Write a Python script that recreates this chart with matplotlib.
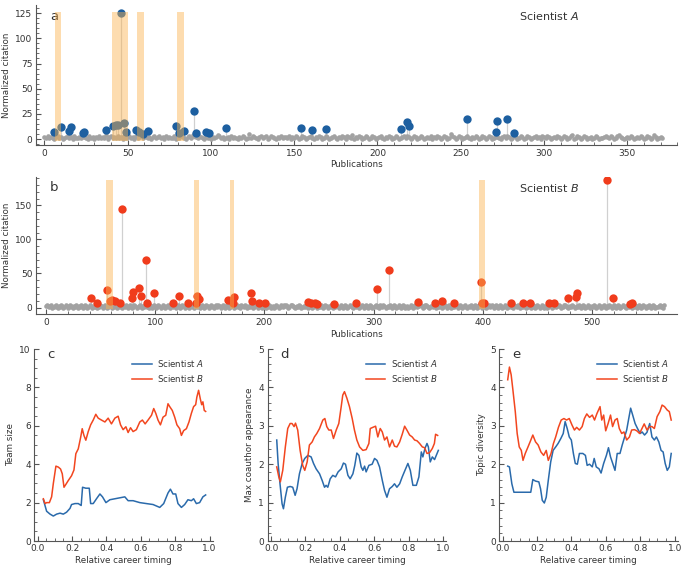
import numpy as np
import matplotlib
matplotlib.use("Agg")
import matplotlib.pyplot as plt
from matplotlib.ticker import AutoMinorLocator

# ---- panel a / b data: every publication (gray) + highlighted hits ----
A_gray = (
    "2131210231 2012312031 1213210312 0213121402 3121312031 "
    "2312031241 3212023123 1203121130 2132102314 3213210213 "
    "0212431201 2031210213 2015132102 3123013210 2131221302 "
    "1320132012 3102132013 2012310213 2032140213 2013201320 "
    "1231021320 1320123132 0132013201 2130213201 3201532013 "
    "2012310213 2013201320 1321023132 0142013201 3201231203 "
    "2132012132 0132013401 3201320120 1320112321 3201342101 "
    "2132012132 0132014201 21"
)
B_gray = (
    "2321230123 1021320132 0132102130 2132013201 3201213021 "
    "3201320153 2013201231 0213201320 1320123102 1321032013 "
    "2013201320 1231021320 1320132013 2012310213 2013201320 "
    "1321023132 0142013201 3201231203 2132012132 0132013201 "
    "3201320120 1320132132 3201342101 2132012132 0132014201 "
    "2132013201 2310213201 3201320132 1023132014 2013201320 "
    "1231203213 2012132013 2013201320 1201320132 1323201342 "
    "1012132012 1320132014 2012132013 2012310213 2013201320 "
    "1320123132 0132013201 3201231203 2132012132 0132013201 "
    "3201320120 1320132132 3201342101 2132012132 0132014201 "
    "2132013201 2310213201 3201320132 1023132014 2013201320 "
    "2132013201 1231203"
)

A_hit_x = [6, 10, 15, 16, 23, 24, 37, 41, 43, 44, 46, 48, 49, 55, 57, 59, 62, 79,
           81, 84, 90, 91, 97, 99, 109, 154, 161, 169, 214, 218, 219, 254, 271,
           272, 278, 282]
A_hit_y = [6.6, 11.5, 8, 11.5, 5.6, 6.6, 9, 13, 14.4, 14.4, 125, 16.4, 7.2, 9.2,
           6.6, 5, 7.9, 13, 6, 7.9, 28, 5.6, 7.5, 6, 10.5, 11, 8.5, 9.8, 9.5,
           16.7, 12.8, 20.3, 6.9, 18, 20, 5.9]
A_bands = [(6.3, 10), (40.5, 50.4), (55.6, 59.7), (79.8, 83.9)]

B_hit_x = [41, 47, 56, 59, 61, 63, 68, 70, 79, 80, 85, 87, 92, 93, 99, 116, 122,
           130, 137, 138, 140, 167, 171, 172, 188, 189, 195, 201, 240, 243, 246,
           248, 264, 284, 303, 314, 341, 356, 363, 374, 398, 399, 401, 426, 437,
           443, 461, 465, 478, 485, 486, 514, 519, 535, 537]
B_hit_y = [13.7, 5.9, 25.4, 9.8, 11.2, 10, 6, 144, 13.7, 23, 28.3, 17, 69.4, 6.4,
           21, 5.9, 17, 5.9, 7.3, 17, 12.2, 10.7, 6.3, 14.7, 21, 9.3, 5.9, 7.3,
           8.3, 7.3, 7.3, 5.4, 4.9, 7.3, 26.9, 55.2, 8.8, 7.3, 9.3, 5.9, 38, 6.8,
           7.3, 7.3, 7.3, 5.9, 6.8, 5.9, 14.2, 15.1, 22, 186.6, 14.2, 5.4, 6.8]
B_bands = [(54.7, 61.7), (135.6, 140.4), (168.4, 172.3), (396.8, 402.3)]

# ---- panel c: team size ----
c_A_x = [0.033, 0.052, 0.072, 0.091, 0.110, 0.130, 0.149, 0.168, 0.188, 0.197,
         0.217, 0.236, 0.253, 0.261, 0.280, 0.300, 0.308, 0.323, 0.342, 0.362,
         0.377, 0.397, 0.420, 0.449, 0.478, 0.507, 0.526, 0.555, 0.594, 0.632,
         0.671, 0.710, 0.733, 0.758, 0.772, 0.787, 0.803, 0.816, 0.836, 0.855,
         0.874, 0.894, 0.907, 0.923, 0.942, 0.961, 0.977]
c_A_y = [2.15, 1.55, 1.4, 1.3, 1.4, 1.45, 1.4, 1.5, 1.7, 1.9,
         1.95, 1.95, 1.85, 2.8, 2.75, 2.75, 1.95, 1.95, 2.2, 2.45,
         2.3, 2.0, 2.15, 2.2, 2.25, 2.3, 2.1, 2.1, 2.0, 1.95,
         1.9, 1.75, 1.95, 2.5, 2.7, 2.45, 2.45, 1.95, 1.75, 1.9,
         2.15, 2.1, 2.2, 1.95, 2.0, 2.3, 2.4]
c_B_x = [0.033, 0.043, 0.052, 0.068, 0.081, 0.091, 0.106, 0.120, 0.133, 0.143,
         0.153, 0.164, 0.178, 0.197, 0.211, 0.222, 0.236, 0.250, 0.259, 0.269,
         0.280, 0.294, 0.308, 0.323, 0.338, 0.352, 0.371, 0.391, 0.410, 0.429,
         0.449, 0.468, 0.482, 0.497, 0.513, 0.526, 0.540, 0.555, 0.574, 0.594,
         0.609, 0.625, 0.642, 0.662, 0.675, 0.687, 0.700, 0.714, 0.729, 0.745,
         0.758, 0.768, 0.783, 0.797, 0.810, 0.826, 0.836, 0.849, 0.865, 0.880,
         0.894, 0.907, 0.919, 0.926, 0.936, 0.946, 0.954, 0.961, 0.969, 0.977]
c_B_y = [2.2, 1.95, 2.0, 2.0, 2.3, 3.0, 3.9, 3.85, 3.75, 3.5,
         2.8, 2.95, 3.15, 3.4, 3.7, 4.55, 4.8, 5.4, 5.85, 5.5,
         5.25, 5.7, 6.05, 6.3, 6.6, 6.4, 6.3, 6.2, 6.4, 6.1,
         6.4, 6.5, 6.05, 5.8, 5.95, 5.65, 5.9, 5.7, 5.8, 6.2,
         6.3, 6.1, 6.3, 6.55, 6.9, 6.65, 6.3, 6.05, 6.45, 6.55,
         7.15, 7.0, 6.8, 6.45, 6.05, 5.85, 5.5, 5.75, 5.85, 6.2,
         6.65, 7.0, 7.1, 7.5, 7.85, 7.4, 7.1, 7.25, 6.8, 6.75]

# ---- panel d: max coauthor appearance ----
d_A_x = [0.033, 0.041, 0.052, 0.064, 0.072, 0.083, 0.095, 0.111, 0.126, 0.140,
         0.151, 0.165, 0.181, 0.196, 0.214, 0.233, 0.247, 0.262, 0.282, 0.297,
         0.311, 0.320, 0.330, 0.344, 0.359, 0.375, 0.390, 0.408, 0.421, 0.433,
         0.447, 0.460, 0.476, 0.487, 0.499, 0.511, 0.524, 0.534, 0.544, 0.553,
         0.569, 0.588, 0.602, 0.616, 0.631, 0.647, 0.660, 0.674, 0.689, 0.705,
         0.718, 0.732, 0.748, 0.763, 0.777, 0.796, 0.810, 0.825, 0.845, 0.860,
         0.874, 0.883, 0.895, 0.907, 0.915, 0.926, 0.938, 0.951, 0.961, 0.973]
d_A_y = [2.63, 2.02, 1.49, 0.97, 0.84, 1.14, 1.4, 1.42, 1.4, 1.19,
         1.36, 1.75, 2.02, 2.15, 2.23, 2.19, 2.02, 1.88, 1.75, 1.58,
         1.4, 1.45, 1.4, 1.62, 1.71, 1.67, 1.8, 1.88, 2.03, 2.0,
         1.71, 1.62, 1.75, 1.97, 2.29, 2.23, 1.93, 1.84, 1.95, 1.8,
         1.97, 2.0, 2.15, 2.1, 1.93, 1.58, 1.32, 1.14, 1.36, 1.42,
         1.49, 1.4, 1.49, 1.67, 1.82, 2.02, 1.84, 1.45, 1.45, 1.67,
         2.32, 2.19, 2.41, 2.54, 2.45, 2.06, 2.19, 2.12, 2.23, 2.36]
d_B_x = [0.033, 0.045, 0.054, 0.068, 0.083, 0.097, 0.111, 0.122, 0.134, 0.142,
         0.155, 0.169, 0.184, 0.196, 0.210, 0.223, 0.239, 0.252, 0.266, 0.282,
         0.301, 0.313, 0.324, 0.336, 0.350, 0.363, 0.379, 0.394, 0.408, 0.417,
         0.427, 0.441, 0.456, 0.472, 0.485, 0.499, 0.515, 0.534, 0.553, 0.569,
         0.577, 0.592, 0.608, 0.621, 0.635, 0.647, 0.660, 0.674, 0.689, 0.705,
         0.718, 0.732, 0.748, 0.763, 0.777, 0.790, 0.806, 0.821, 0.835, 0.849,
         0.864, 0.880, 0.893, 0.907, 0.922, 0.938, 0.950, 0.957, 0.969]
d_B_y = [1.93, 1.67, 1.54, 1.84, 2.45, 2.93, 3.06, 3.06, 2.98, 3.07,
         2.89, 2.36, 1.97, 1.84, 2.06, 2.5, 2.58, 2.71, 2.8, 2.93,
         3.15, 3.19, 2.98, 2.89, 2.89, 2.67, 2.89, 3.06, 3.5, 3.8,
         3.89, 3.72, 3.5, 3.19, 2.89, 2.63, 2.45, 2.36, 2.38, 2.54,
         2.93, 2.96, 2.99, 2.71, 2.93, 2.84, 2.63, 2.71, 2.45, 2.63,
         2.47, 2.45, 2.58, 2.78, 2.99, 2.89, 2.76, 2.71, 2.63, 2.61,
         2.54, 2.45, 2.43, 2.28, 2.3, 2.41, 2.54, 2.78, 2.75]

# ---- panel e: topic diversity ----
e_A_x = [0.029, 0.039, 0.053, 0.065, 0.092, 0.132, 0.163, 0.175, 0.191, 0.210,
         0.220, 0.230, 0.242, 0.253, 0.265, 0.279, 0.293, 0.308, 0.322, 0.338,
         0.352, 0.363, 0.375, 0.387, 0.399, 0.411, 0.422, 0.434, 0.446, 0.466,
         0.481, 0.491, 0.505, 0.521, 0.532, 0.544, 0.560, 0.572, 0.587, 0.603,
         0.615, 0.627, 0.639, 0.653, 0.666, 0.682, 0.695, 0.709, 0.721, 0.733,
         0.744, 0.756, 0.770, 0.784, 0.800, 0.811, 0.825, 0.839, 0.855, 0.868,
         0.882, 0.894, 0.908, 0.921, 0.933, 0.945, 0.957, 0.969, 0.980]
e_A_y = [1.95, 1.93, 1.49, 1.27, 1.27, 1.27, 1.27, 1.6, 1.56, 1.54,
         1.36, 1.06, 0.99, 1.14, 1.58, 2.06, 2.36, 2.45, 2.54, 2.67,
         2.8, 3.11, 2.93, 2.71, 2.63, 2.28, 2.02, 2.0, 2.28, 2.28,
         2.23, 1.97, 2.0, 1.93, 2.15, 1.93, 1.88, 1.77, 2.02, 2.23,
         2.43, 2.19, 2.03, 1.84, 2.28, 2.28, 2.5, 2.71, 2.89, 3.19,
         3.46, 3.28, 3.06, 2.93, 2.8, 2.84, 2.76, 2.83, 3.06, 2.71,
         2.63, 2.71, 2.58, 2.36, 2.32, 2.02, 1.84, 1.93, 2.28]
e_B_x = [0.029, 0.039, 0.049, 0.059, 0.073, 0.084, 0.096, 0.108, 0.118, 0.131,
         0.147, 0.159, 0.175, 0.191, 0.206, 0.222, 0.238, 0.253, 0.265, 0.281,
         0.295, 0.308, 0.324, 0.340, 0.356, 0.371, 0.387, 0.403, 0.417, 0.430,
         0.446, 0.462, 0.475, 0.489, 0.505, 0.521, 0.534, 0.548, 0.566, 0.576,
         0.587, 0.599, 0.613, 0.627, 0.639, 0.653, 0.666, 0.678, 0.692, 0.705,
         0.721, 0.737, 0.750, 0.766, 0.780, 0.796, 0.810, 0.823, 0.839, 0.855,
         0.868, 0.882, 0.898, 0.914, 0.927, 0.941, 0.957, 0.969, 0.980]
e_B_y = [4.2, 4.53, 4.33, 3.94, 3.37, 2.8, 2.45, 2.36, 2.1, 2.28,
         2.45, 2.58, 2.76, 2.58, 2.5, 2.32, 2.23, 2.36, 2.1, 2.28,
         2.54, 2.71, 2.96, 3.15, 3.19, 3.15, 3.19, 3.02, 2.89, 2.96,
         2.89, 2.98, 3.19, 3.31, 3.22, 3.28, 3.15, 3.32, 3.5, 3.15,
         3.28, 2.87, 3.06, 3.28, 2.98, 3.15, 3.19, 2.93, 2.8, 2.84,
         2.63, 2.71, 2.89, 2.9, 2.87, 2.8, 2.93, 3.05, 2.89, 2.98,
         2.98, 2.93, 3.24, 3.37, 3.54, 3.5, 3.41, 3.37, 3.15]

BLUE = "#1d5fa0"
RED = "#f03c1c"
LINE_BLUE = "#2a6aab"
LINE_RED = "#f2461f"
GRAY = "#a2a2a2"
BAND = "#fbb24e"
TXT = "#333333"

plt.rcParams["font.family"] = "DejaVu Sans"
plt.rcParams["font.size"] = 6.3
plt.rcParams["text.color"] = TXT
plt.rcParams["axes.labelcolor"] = TXT
plt.rcParams["xtick.color"] = "#555555"
plt.rcParams["ytick.color"] = "#555555"
plt.rcParams["xtick.labelcolor"] = TXT
plt.rcParams["ytick.labelcolor"] = TXT

LABEL_FS = 6.3
TICK_FS = 6.5


def style(ax):
    for s in ("top", "right"):
        ax.spines[s].set_visible(False)
    for s in ("left", "bottom"):
        ax.spines[s].set_color("#555555")
        ax.spines[s].set_linewidth(0.8)
    ax.xaxis.set_minor_locator(AutoMinorLocator())
    ax.yaxis.set_minor_locator(AutoMinorLocator())
    ax.tick_params(which="both", direction="in", labelsize=TICK_FS, pad=2.5)
    ax.tick_params(which="major", length=3.5)
    ax.tick_params(which="minor", length=2)


def pubs_panel(ax, gray_str, hx, hy, bands, band_top, color, letter, who, xlim, ylim, xticks, yticks):
    g = np.array([int(c) for c in gray_str.replace(" ", "")])
    ax.scatter(np.arange(len(g)), g, s=11, color=GRAY, lw=0, zorder=2)
    ax.vlines(hx, 0, hy, color="#d0d0d0", lw=0.9, zorder=1)
    ax.scatter(hx, hy, s=36, color=color, lw=0, zorder=3)
    for x0, x1 in bands:
        ax.fill_between([x0, x1], -2, band_top, color=BAND, alpha=0.45, lw=0, zorder=4)
    ax.set_xlim(*xlim)
    ax.set_ylim(*ylim)
    ax.set_xticks(xticks)
    ax.set_yticks(yticks)
    ax.set_xlabel("Publications", fontsize=LABEL_FS, labelpad=2)
    ax.set_ylabel("Normalized citation", fontsize=LABEL_FS, labelpad=3)
    ax.text(0.022, 0.92, letter, transform=ax.transAxes, fontsize=9.5, va="center")
    ax.text(0.80, 0.92, "Scientist $\\it{" + who + "}$", transform=ax.transAxes,
            fontsize=8, ha="center", va="center")
    style(ax)


fig = plt.figure(figsize=(6.85, 5.69), dpi=100)

ax_a = fig.add_axes([0.0526, 0.745, 0.936, 0.246])
pubs_panel(ax_a, A_gray, A_hit_x, A_hit_y, A_bands, 126, BLUE, "a", "A",
           (-5, 380), (-6, 133), range(0, 351, 50), range(0, 126, 25))

ax_b = fig.add_axes([0.0526, 0.4476, 0.936, 0.2418])
pubs_panel(ax_b, B_gray, B_hit_x, B_hit_y, B_bands, 187, RED, "b", "B",
           (-9, 578), (-10, 192), range(0, 501, 100), range(0, 151, 50))

bottom = [
    (0.0500, "c", "Team size", (0, 10), range(0, 11, 2), c_A_x, c_A_y, c_B_x, c_B_y),
    (0.3907, "d", "Max coauthor appearance", (0, 5), range(0, 6), d_A_x, d_A_y, d_B_x, d_B_y),
    (0.7289, "e", "Topic diversity", (0, 5), range(0, 6), e_A_x, e_A_y, e_B_x, e_B_y),
]
for left, letter, ylab, ylim, yt, ax_x, ax_y, bx_x, bx_y in bottom:
    ax = fig.add_axes([left, 0.0492, 0.261, 0.3374])
    ax.plot(ax_x, ax_y, color=LINE_BLUE, lw=1.1, label="Scientist $\\it{A}$")
    ax.plot(bx_x, bx_y, color=LINE_RED, lw=1.1, label="Scientist $\\it{B}$")
    ax.set_xlim(-0.02, 1.02)
    ax.set_ylim(*ylim)
    ax.set_yticks(yt)
    ax.set_xticks([0, 0.2, 0.4, 0.6, 0.8, 1.0])
    ax.set_xlabel("Relative career timing", fontsize=LABEL_FS, labelpad=2)
    ax.set_ylabel(ylab, fontsize=LABEL_FS, labelpad=3)
    ax.text(0.07, 0.97, letter, transform=ax.transAxes, fontsize=9.5, va="center")
    ax.legend(loc="upper right", frameon=False, fontsize=6.2, handlelength=2.3,
              handletextpad=0.6, borderaxespad=0.6, labelspacing=0.55)
    style(ax)

fig.savefig("out.png", dpi=100)
